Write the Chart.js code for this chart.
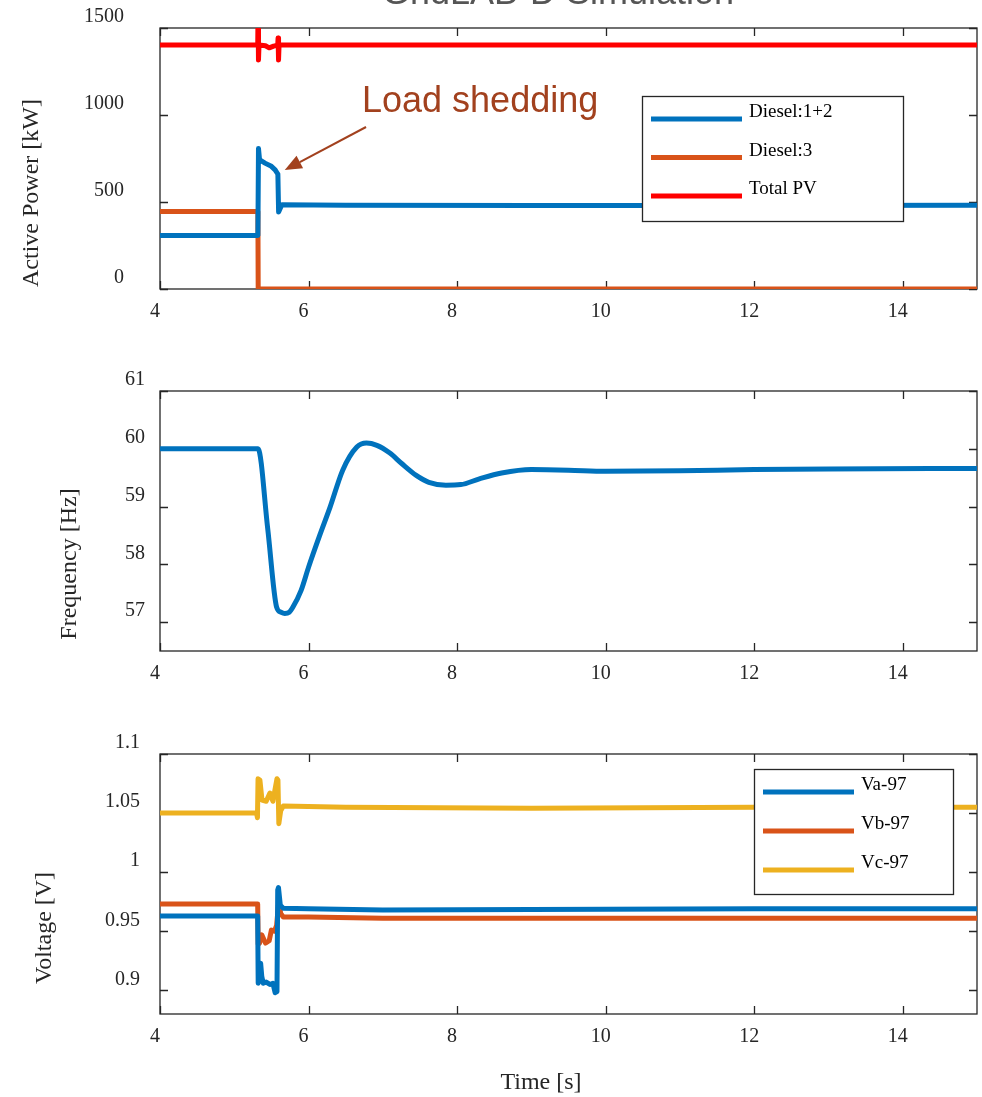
<!DOCTYPE html>
<html>
<head>
<meta charset="utf-8">
<title>GridLAB-D Simulation</title>
<script src="https://cdn.jsdelivr.net/npm/chart.js@4.4.1/dist/chart.umd.min.js"></script>
<style>
  html, body { margin: 0; padding: 0; background: #ffffff; }
  #wrap { position: relative; width: 982px; height: 1097px; overflow: hidden; }
  #wrap canvas { position: absolute; left: 0; }
</style>
</head>
<body>
<div id="wrap">
  <canvas id="cPower" width="982" height="340" style="top:0px"></canvas>
  <canvas id="cFreq" width="982" height="360" style="top:340px"></canvas>
  <canvas id="cVolt" width="982" height="397" style="top:700px"></canvas>
</div>
<script>
// ---- tick labels ----
const xTicks = [4, 6, 8, 10, 12, 14];
const powerTicks = [0, 500, 1000, 1500];
const freqTicks = [57, 58, 59, 60, 61];
const voltTicks = [0.9, 0.95, 1, 1.05, 1.1];

// ---- active power [kW] ----
const dieselA_t  = [4, 5.318, 5.326, 5.34, 5.37, 5.42, 5.50, 5.55, 5.575, 5.587, 5.597, 5.64, 6.5, 9, 12, 15];
const dieselA_kw = [308, 308, 808, 745, 735, 722, 705, 685, 668, 660, 442, 484, 482, 480, 480, 482];

const dieselB_t  = [4, 5.318, 5.322, 15];
const dieselB_kw = [445, 445, 0, 0];

const pv_t  = [4, 5.316, 5.320, 5.326, 5.333, 5.42, 5.47, 5.53, 5.585, 5.590, 5.596, 5.603, 15];
const pv_kw = [1402, 1402, 1600, 1316, 1402, 1398, 1386, 1396, 1402, 1443, 1316, 1402, 1402];

// ---- frequency [Hz] ----
const freq_t  = [4, 5.32, 5.45, 5.57, 5.63, 5.68, 5.74, 5.79, 5.9, 6.0, 6.15, 6.29, 6.46, 6.65, 6.78, 6.92, 7.09, 7.25, 7.45, 7.62, 7.85, 8.05, 8.3, 8.6, 9.0, 9.5, 10.0, 11, 12, 13, 15];
const freq_hz = [60.0, 60.0, 58.62, 57.26, 57.17, 57.15, 57.17, 57.26, 57.55, 57.95, 58.5, 58.99, 59.63, 60.03, 60.10, 60.06, 59.93, 59.75, 59.54, 59.42, 59.37, 59.38, 59.48, 59.58, 59.64, 59.63, 59.61, 59.62, 59.64, 59.65, 59.66];

// ---- bus 97 voltages [V] ----
const va_t = [4, 5.315, 5.322, 5.34, 5.355, 5.37, 5.39, 5.43, 5.48, 5.52, 5.55, 5.575, 5.585, 5.595, 5.62, 5.66, 6.0, 7.0, 9.0, 12, 15];
const va_v = [0.963, 0.963, 0.906, 0.91, 0.923, 0.912, 0.906, 0.907, 0.905, 0.906, 0.898, 0.899, 0.985, 0.987, 0.972, 0.9695, 0.969, 0.968, 0.9685, 0.969, 0.969];

const vb_t = [4, 5.315, 5.322, 5.34, 5.37, 5.42, 5.47, 5.5, 5.54, 5.57, 5.6, 5.625, 5.66, 6.0, 7.0, 9, 12, 15];
const vb_v = [0.973, 0.973, 0.939, 0.94, 0.947, 0.94, 0.942, 0.951, 0.95, 0.955, 0.976, 0.965, 0.962, 0.962, 0.961, 0.961, 0.961, 0.961];

const vc_t = [4, 5.30, 5.312, 5.32, 5.345, 5.373, 5.43, 5.48, 5.52, 5.575, 5.588, 5.60, 5.625, 5.66, 6.5, 9, 12, 15];
const vc_v = [1.05, 1.05, 1.046, 1.079, 1.078, 1.061, 1.06, 1.067, 1.06, 1.079, 1.078, 1.041, 1.052, 1.056, 1.055, 1.054, 1.055, 1.055];

// ---- colours / fonts ----
const C_BLUE = '#0072BD', C_ORANGE = '#D95319', C_YELLOW = '#EDB120', C_RED = '#FF0000';
const AXIS_COLOR = '#262626';
const SERIF = '"Liberation Serif", "Times New Roman", serif';
const SANS = '"Liberation Sans", Arial, sans-serif';

const zip = (t, v) => t.map((x, i) => ({ x: x, y: v[i] }));

function series(label, color, t, v, smooth) {
  return {
    label: label,
    data: zip(t, v),
    borderColor: color,
    backgroundColor: color,
    borderWidth: 5,
    pointRadius: 0,
    fill: false,
    tension: smooth ? 0.4 : 0,
    cubicInterpolationMode: smooth ? 'monotone' : 'default',
    borderJoinStyle: 'round',
    borderCapStyle: 'round'
  };
}

// box, inward tick marks, axis titles, legend and notes
const framePlugin = {
  id: 'frame',
  beforeDatasetsDraw(chart) {
    const { ctx, chartArea: a, scales } = chart;
    ctx.save();
    ctx.strokeStyle = AXIS_COLOR;
    ctx.lineWidth = 1.3;
    ctx.beginPath();
    scales.x.ticks.forEach(tk => {
      const p = Math.round(scales.x.getPixelForValue(tk.value)) + 0.5;
      ctx.moveTo(p, a.bottom); ctx.lineTo(p, a.bottom - 8);
      ctx.moveTo(p, a.top); ctx.lineTo(p, a.top + 8);
    });
    scales.y.ticks.forEach(tk => {
      const p = Math.round(scales.y.getPixelForValue(tk.value)) + 0.5;
      ctx.moveTo(a.left, p); ctx.lineTo(a.left + 8, p);
      ctx.moveTo(a.right, p); ctx.lineTo(a.right - 8, p);
    });
    ctx.stroke();
    ctx.strokeRect(a.left, a.top, a.right - a.left, a.bottom - a.top);
    ctx.restore();
  },
  afterDraw(chart, args, o) {
    const { ctx, scales } = chart;
    ctx.save();
    // y-axis title
    if (o.yTitle) {
      ctx.fillStyle = AXIS_COLOR;
      ctx.font = '24px ' + SERIF;
      ctx.textAlign = 'center';
      ctx.textBaseline = 'middle';
      ctx.translate(o.yTitle.x, o.yTitle.y);
      ctx.rotate(-Math.PI / 2);
      ctx.fillText(o.yTitle.text, 0, 0);
      ctx.setTransform(1, 0, 0, 1, 0, 0);
    }
    // x-axis title
    if (o.xTitle) {
      ctx.fillStyle = AXIS_COLOR;
      ctx.font = '24px ' + SERIF;
      ctx.textAlign = 'center';
      ctx.textBaseline = 'middle';
      ctx.fillText(o.xTitle.text, o.xTitle.x, o.xTitle.y);
    }
    // figure title
    if (o.title) {
      ctx.fillStyle = '#555555';
      ctx.font = '36px ' + SANS;
      ctx.textAlign = 'center';
      ctx.textBaseline = 'alphabetic';
      ctx.fillText(o.title.text, o.title.x, o.title.y);
    }
    // note with arrow, placed in data units
    if (o.note) {
      const n = o.note;
      const col = '#A2411E';
      ctx.fillStyle = col;
      ctx.strokeStyle = col;
      ctx.font = '36px ' + SANS;
      ctx.textAlign = 'center';
      ctx.textBaseline = 'alphabetic';
      ctx.fillText(n.text, scales.x.getPixelForValue(n.tx), scales.y.getPixelForValue(n.ty));
      const x0 = scales.x.getPixelForValue(n.ax0), y0 = scales.y.getPixelForValue(n.ay0);
      const x1 = scales.x.getPixelForValue(n.ax1), y1 = scales.y.getPixelForValue(n.ay1);
      const ang = Math.atan2(y1 - y0, x1 - x0);
      const hl = 17, hw = 7;
      const bx = x1 - hl * Math.cos(ang), by = y1 - hl * Math.sin(ang);
      ctx.lineWidth = 2;
      ctx.beginPath();
      ctx.moveTo(x0, y0); ctx.lineTo(bx, by);
      ctx.stroke();
      ctx.beginPath();
      ctx.moveTo(x1, y1);
      ctx.lineTo(bx + hw * Math.sin(ang), by - hw * Math.cos(ang));
      ctx.lineTo(bx - hw * Math.sin(ang), by + hw * Math.cos(ang));
      ctx.closePath();
      ctx.fill();
    }
    // legend box
    if (o.legend) {
      const L = o.legend;
      ctx.fillStyle = '#ffffff';
      ctx.fillRect(L.x, L.y, L.w, L.h);
      ctx.strokeStyle = AXIS_COLOR;
      ctx.lineWidth = 1.3;
      ctx.strokeRect(L.x + 0.5, L.y + 0.5, L.w, L.h);
      ctx.font = '19px ' + SERIF;
      ctx.textAlign = 'left';
      ctx.textBaseline = 'alphabetic';
      chart.data.datasets.forEach((ds, i) => {
        const ly = L.y + L.row0 + i * L.rowGap;
        ctx.strokeStyle = ds.borderColor;
        ctx.lineWidth = 5;
        ctx.beginPath();
        ctx.moveTo(L.x + 9, ly); ctx.lineTo(L.x + 100, ly);
        ctx.stroke();
        ctx.fillStyle = '#000000';
        ctx.fillText(ds.label, L.x + 107, ly - 2);
      });
    }
    ctx.restore();
  }
};

function makeChart(id, datasets, yMin, yMax, yTicks, fmt, padTop, xHeight, yPad, pluginOpts) {
  return new Chart(document.getElementById(id), {
    type: 'line',
    data: { datasets: datasets },
    options: {
      responsive: false,
      animation: false,
      events: [],
      layout: { padding: { top: padTop, right: 5, bottom: 0, left: 0 } },
      plugins: { legend: { display: false }, tooltip: { enabled: false }, frame: pluginOpts },
      scales: {
        x: {
          type: 'linear',
          min: 4, max: 15,
          afterBuildTicks: s => { s.ticks = xTicks.map(v => ({ value: v })); },
          afterFit: s => { s.height = xHeight; s.paddingLeft = 0; s.paddingRight = 0; },
          grid: { display: false, drawTicks: false },
          border: { display: false },
          ticks: {
            color: AXIS_COLOR, font: { family: SERIF, size: 20 },
            padding: 11, labelOffset: -5, maxRotation: 0, autoSkip: false,
            callback: v => String(v)
          }
        },
        y: {
          type: 'linear',
          min: yMin, max: yMax,
          afterBuildTicks: s => { s.ticks = yTicks.map(v => ({ value: v })); },
          afterFit: s => { s.width = 160; s.paddingTop = 0; s.paddingBottom = 0; },
          grid: { display: false, drawTicks: false },
          border: { display: false },
          ticks: {
            color: AXIS_COLOR, font: { family: SERIF, size: 20 },
            padding: yPad, labelOffset: -11, autoSkip: false,
            callback: fmt
          }
        }
      }
    },
    plugins: [framePlugin]
  });
}

const fmtPlain = v => String(+v.toFixed(2));

makeChart('cPower', [
  series('Diesel:1+2', C_BLUE, dieselA_t, dieselA_kw),
  series('Diesel:3', C_ORANGE, dieselB_t, dieselB_kw),
  series('Total PV', C_RED, pv_t, pv_kw)
], 0, 1500, powerTicks, fmtPlain, 28, 51, 36, {
  yTitle: { text: 'Active Power [kW]', x: 32, y: 193 },
  title: { text: 'GridLAB-D Simulation', x: 558, y: 4 },
  note: { text: 'Load shedding', tx: 8.31, ty: 1017, ax0: 6.774, ay0: 931, ax1: 5.68, ay1: 684 },
  legend: { x: 642, y: 96, w: 261, h: 125, row0: 23, rowGap: 38.5 }
});

makeChart('cFreq', [
  series('Frequency', C_BLUE, freq_t, freq_hz, true)
], 56.5, 61, freqTicks, fmtPlain, 51, 49, 15, {
  yTitle: { text: 'Frequency [Hz]', x: 70, y: 564 - 340 }
});

makeChart('cVolt', [
  series('Va-97', C_BLUE, va_t, va_v),
  series('Vb-97', C_ORANGE, vb_t, vb_v),
  series('Vc-97', C_YELLOW, vc_t, vc_v)
], 0.88, 1.1, voltTicks, fmtPlain, 54, 83, 20, {
  yTitle: { text: 'Voltage [V]', x: 45, y: 928 - 700 },
  xTitle: { text: 'Time [s]', x: 541, y: 1083 - 700 },
  legend: { x: 754, y: 69, w: 199, h: 125, row0: 23, rowGap: 39 }
});
</script>
</body>
</html>
